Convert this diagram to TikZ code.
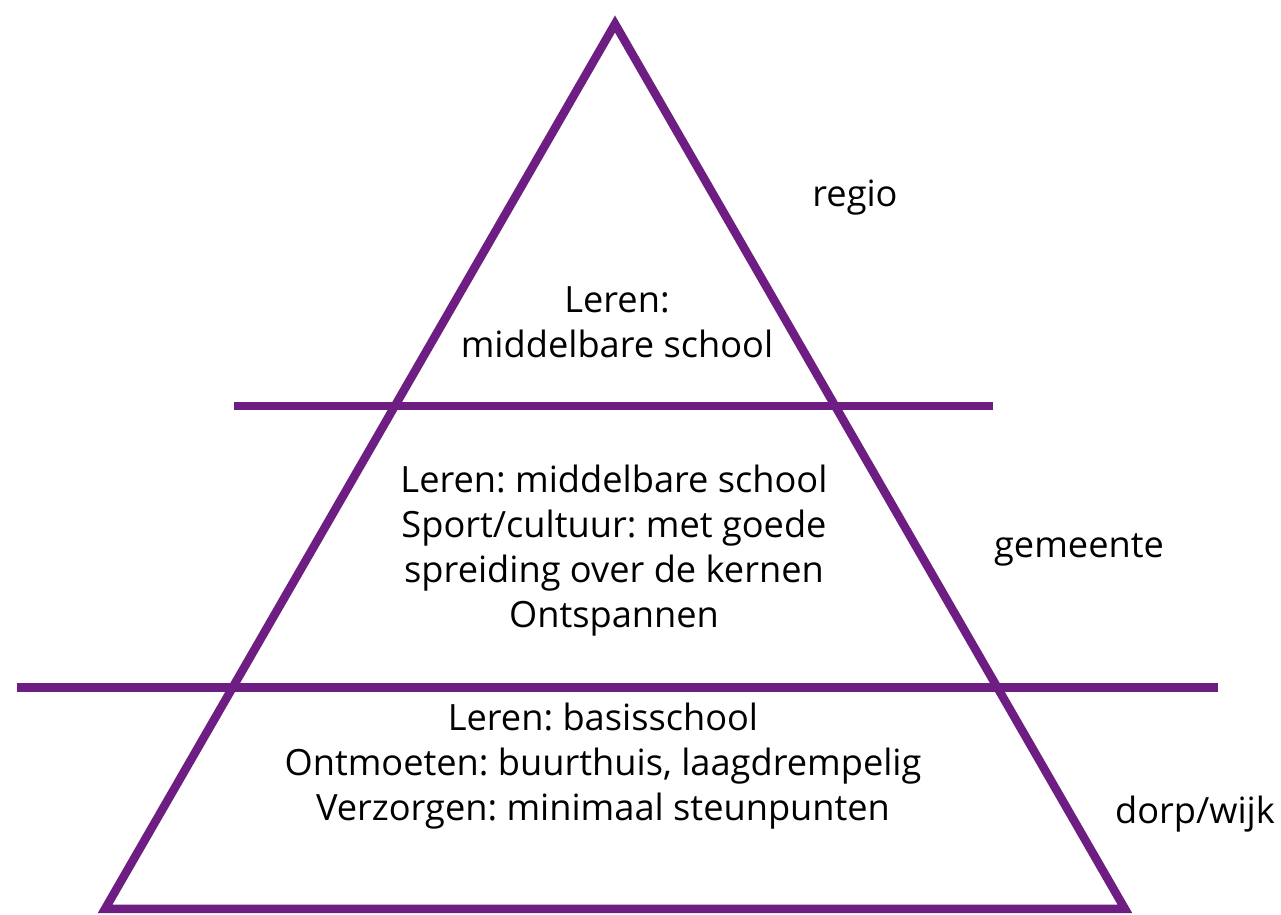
\documentclass[tikz,border=0pt]{standalone}
\usepackage{fontspec}
\setmainfont{Open Sans}
\frenchspacing
\definecolor{paars}{RGB}{110,30,130}
\tikzset{
  laag/.style={align=center,font=\fontsize{10.3}{12.8}\selectfont},
  niveau/.style={font=\fontsize{10.3}{12.8}\selectfont},
  lijn/.style={draw=paars,line width=0.085cm}
}
\begin{document}
\begin{tikzpicture}
\useasboundingbox (0,0) rectangle (12.81,9.15);
\coordinate (top) at (6.15,8.91);
\coordinate (links) at (1.05,0.06);
\coordinate (rechts) at (11.25,0.06);
\coordinate (a1) at (2.34,5.09);
\coordinate (a2) at (9.93,5.09);
\coordinate (b1) at (0.17,2.275);
\coordinate (b2) at (12.18,2.275);
\path[lijn,miter limit=10] (links) -- (top) -- (rechts) -- cycle;
\path[lijn] (a1) -- (a2);
\path[lijn] (b1) -- (b2);

\node[laag] (regiotekst) at (6.17,5.93) {Leren:\\middelbare school};
\node[laag] (gemeentetekst) at (6.14,3.64) {Leren: middelbare school\\Sport/cultuur: met goede\\spreiding over de kernen\\Ontspannen};
\node[laag] (dorptekst) at (6.03,1.49) {Leren: basisschool\\Ontmoeten: buurthuis, laagdrempelig\\Verzorgen: minimaal steunpunten};

\node[niveau] (regio) at (8.55,7.17) {regio};
\node[niveau] (gemeente) at (10.79,3.65) {gemeente};
\node[niveau] (dorp) at (11.95,1.01) {dorp/wijk};
\end{tikzpicture}
\end{document}
